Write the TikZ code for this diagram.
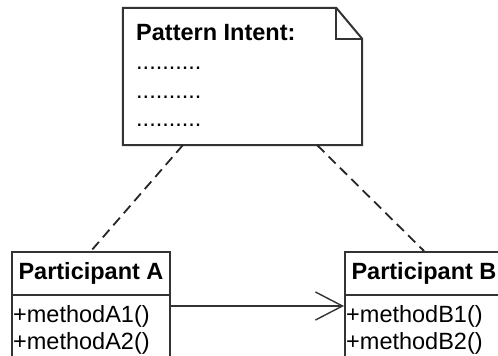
\documentclass[tikz,border=0pt]{standalone}
\usepackage{fontspec}
\setmainfont{Liberation Sans}
\usetikzlibrary{arrows.meta,positioning}

\begin{document}
\begin{tikzpicture}[
    x=1pt, y=-1pt,
    font=\fontsize{23.5}{27}\selectfont,
    line/.style={draw=black!80, line width=2pt},
    notebox/.style={minimum width=239pt, minimum height=137pt, inner sep=0pt},
    classhead/.style={line, minimum width=158pt, minimum height=43pt, inner sep=0pt, font=\fontsize{23.5}{27}\selectfont\bfseries},
    classbody/.style={line, minimum width=158pt, minimum height=80pt, inner sep=0pt},
    txt/.style={anchor=base west, inner sep=0pt},
    dep/.style={draw=black!85, line width=1.8pt, dash pattern=on 10pt off 6pt},
    assoc/.style={draw=black!80, line width=1.4pt, -{Straight Barb[length=27pt, width=28pt, line width=1.4pt]}}
]
  \useasboundingbox (0,0) rectangle (498,356);
  \clip (0,0) rectangle (498,356);

  \node[notebox] (note) at (242.5,76.5) {};
  \draw[line] (note.south west) -- (note.north west) -- ([xshift=-26pt]note.north east)
    -- ([yshift=-31pt]note.north east) -- (note.south east) -- cycle;
  \draw[line] ([xshift=-26pt]note.north east) |- ([yshift=-31pt]note.north east);

  \node[txt, font=\fontsize{23.5}{27}\selectfont\bfseries] (intent) at (136,40) {Pattern Intent:};
  \foreach \y [count=\i] in {69,98,126}
    \node[txt] (dots\i) at (136,\y) {..........};

  \node[classhead] (pa) at (91,273.5) {Participant A};
  \node[classbody, below=-2pt of pa] (pabody) {};
  \node[classhead] (pb) at (424,273.5) {Participant B};
  \node[classbody, below=-2pt of pb] (pbbody) {};

  \node[txt] (pa1) at (13,322) {+methodA1()};
  \node[txt] (pa2) at (13,349) {+methodA2()};
  \node[txt] (pb1) at (346,322) {+methodB1()};
  \node[txt] (pb2) at (346,349) {+methodB2()};

  \draw[dep] ([xshift=60pt]note.south west) -- (pa.north);
  \draw[dep] ([xshift=-45pt]note.south east) -- (pb.north);

  \draw[assoc] ([yshift=-10pt]pa.south east) -- ([yshift=-10pt]pb.south west);
\end{tikzpicture}
\end{document}
